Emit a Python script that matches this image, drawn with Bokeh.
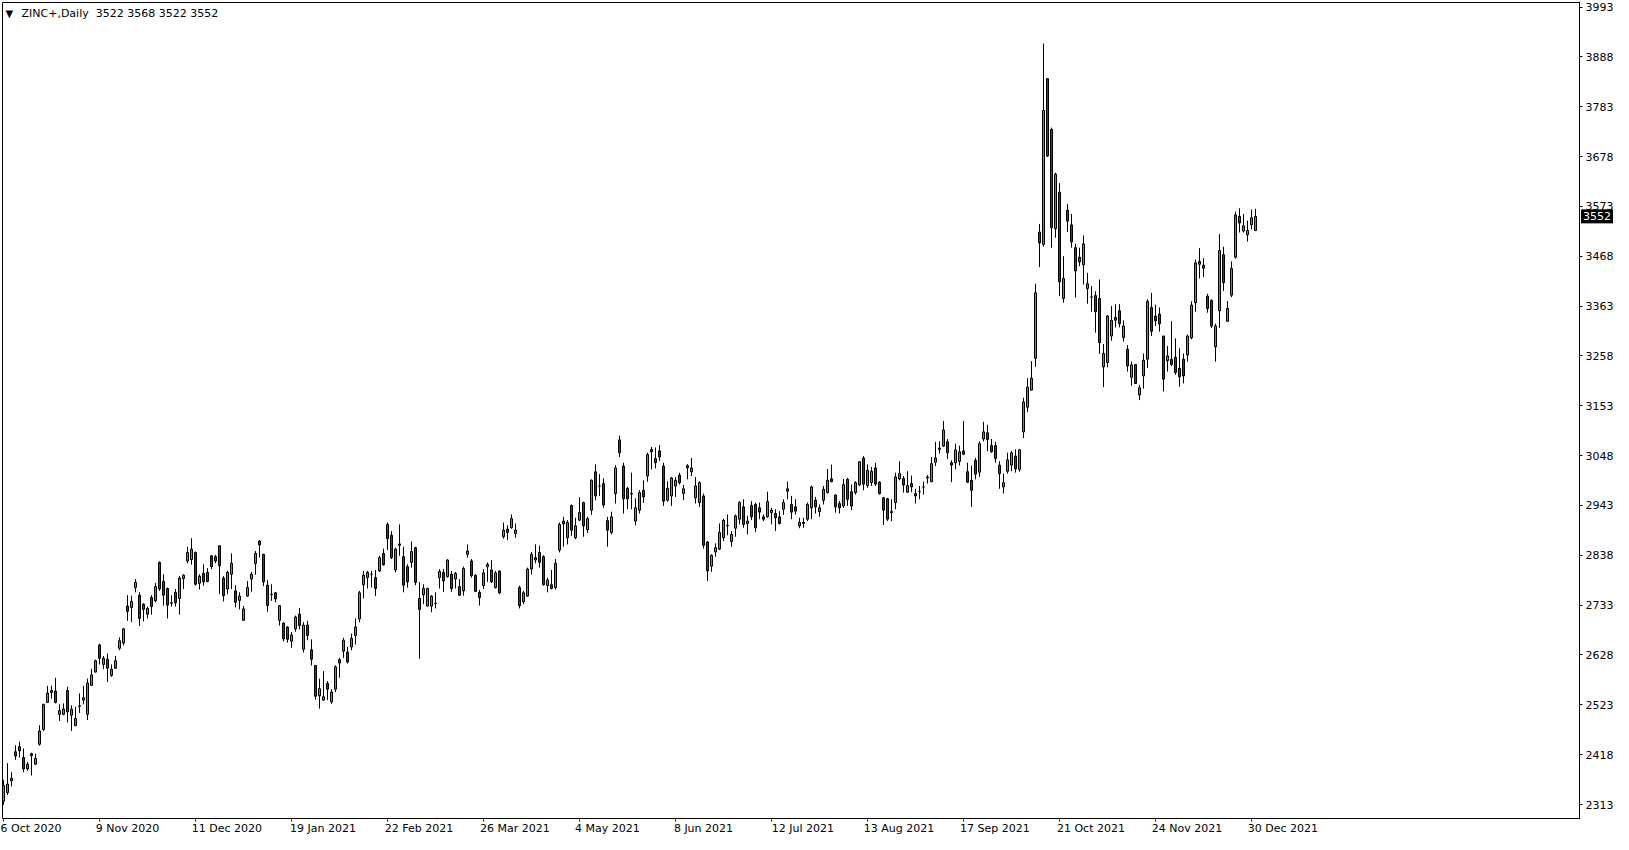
from bokeh.plotting import figure
from bokeh.models import ColumnDataSource, FixedTicker, Range1d, Label
from bokeh.core.properties import value
from bokeh.embed import file_html
from bokeh.resources import INLINE

# ---------------- data ----------------
symbol_text = "ZINC+,Daily"
ohlc_text = "3522 3568 3522 3552"

opens = [
    2320, 2338, 2363, 2424, 2435, 2412, 2388, 2420, 2398, 2440,
    2471, 2528, 2553, 2552, 2503, 2503, 2553, 2501, 2479, 2520,
    2533, 2503, 2564, 2592, 2649, 2608, 2619, 2585, 2600, 2642,
    2653, 2731, 2728, 2770, 2754, 2735, 2714, 2749, 2742, 2823,
    2783, 2768, 2738, 2760, 2747, 2789, 2826, 2829, 2844, 2779,
    2800, 2802, 2837, 2835, 2858, 2790, 2767, 2798, 2763, 2743,
    2701, 2752, 2788, 2821, 2868, 2840, 2775, 2756, 2759, 2701,
    2695, 2687, 2657, 2683, 2714, 2640, 2691, 2639, 2606, 2542,
    2533, 2568, 2529, 2556, 2618, 2636, 2634, 2645, 2669, 2704,
    2776, 2791, 2798, 2791, 2805, 2842, 2903, 2880, 2807, 2862,
    2835, 2814, 2823, 2854, 2747, 2755, 2731, 2731, 2737, 2791,
    2802, 2793, 2798, 2788, 2772, 2763, 2840, 2826, 2796, 2760,
    2774, 2814, 2807, 2770, 2805, 2877, 2893, 2896, 2884, 2770,
    2740, 2752, 2809, 2833, 2844, 2835, 2774, 2776, 2770, 2849,
    2910, 2875, 2943, 2875, 2912, 2949, 2892, 2933, 3014, 2984,
    2989, 2911, 2886, 2968, 3081, 3026, 2979, 2968, 2910, 2933,
    2975, 3005, 3061, 3042, 3058, 3026, 2954, 2963, 2984, 3007,
    2968, 3027, 3014, 2959, 2949, 2963, 2866, 2815, 2845, 2851,
    2875, 2901, 2867, 2895, 2914, 2940, 2905, 2943, 2945, 2938,
    2919, 2919, 2928, 2926, 2919, 2935, 2973, 2945, 2940, 2900,
    2905, 2914, 2938, 2954, 2930, 2954, 2970, 2999, 2965, 2947,
    2942, 2998, 2972, 2970, 2986, 3043, 2985, 2991, 3022, 2992,
    2959, 2957, 2930, 2949, 2999, 3000, 2971, 2989, 2968, 2972,
    2982, 3001, 2993, 3034, 3061, 3068, 3077, 3033, 3033, 3036,
    3058, 3014, 2996, 3038, 3013, 3083, 3096, 3069, 3069, 3028,
    2982, 3015, 3028, 3047, 3019, 3098, 3150, 3186, 3253, 3519,
    3493, 3842, 3735, 3526, 3603, 3379, 3565, 3534, 3486, 3466,
    3450, 3400, 3382, 3385, 3379, 3235, 3244, 3300, 3339, 3353,
    3297, 3272, 3213, 3240, 3176, 3216, 3251, 3360, 3342, 3346,
    3300, 3248, 3251, 3255, 3232, 3251, 3260, 3296, 3370, 3457,
    3449, 3384, 3375, 3277, 3353, 3471, 3331, 3386, 3466, 3552,
    3521, 3513, 3534, 3522,
]
highs = [
    2365, 2400, 2381, 2438, 2445, 2431, 2403, 2422, 2420, 2480,
    2525, 2563, 2563, 2580, 2524, 2526, 2561, 2522, 2519, 2547,
    2563, 2578, 2599, 2618, 2652, 2626, 2631, 2608, 2626, 2665,
    2685, 2754, 2753, 2788, 2760, 2737, 2730, 2754, 2780, 2825,
    2798, 2770, 2754, 2767, 2794, 2798, 2856, 2874, 2846, 2798,
    2819, 2811, 2838, 2839, 2859, 2794, 2805, 2842, 2775, 2760,
    2731, 2784, 2803, 2847, 2870, 2841, 2786, 2777, 2760, 2733,
    2697, 2689, 2676, 2711, 2727, 2697, 2700, 2661, 2606, 2578,
    2594, 2573, 2556, 2606, 2622, 2664, 2645, 2673, 2705, 2763,
    2805, 2805, 2805, 2807, 2837, 2852, 2907, 2889, 2854, 2903,
    2856, 2819, 2867, 2856, 2782, 2777, 2770, 2754, 2760, 2809,
    2809, 2830, 2805, 2803, 2788, 2814, 2861, 2830, 2798, 2765,
    2809, 2823, 2828, 2805, 2805, 2907, 2901, 2924, 2905, 2774,
    2763, 2812, 2845, 2861, 2858, 2838, 2791, 2807, 2830, 2907,
    2919, 2912, 2945, 2917, 2960, 2951, 2919, 2998, 3030, 3009,
    3000, 2919, 2930, 3028, 3090, 3033, 2982, 3012, 2958, 2975,
    2996, 3054, 3066, 3065, 3070, 3033, 2994, 3003, 3003, 3012,
    2986, 3030, 3043, 3003, 2994, 2968, 2868, 2840, 2863, 2905,
    2915, 2924, 2889, 2924, 2952, 2956, 2921, 2952, 2949, 2949,
    2924, 2972, 2938, 2935, 2931, 2956, 2993, 2963, 2956, 2917,
    2917, 2949, 2985, 2961, 2945, 2984, 3020, 3029, 2966, 2952,
    2999, 3001, 2987, 2994, 3036, 3047, 3029, 3024, 3033, 2994,
    2961, 2959, 2956, 3012, 3036, 3005, 3015, 3006, 2978, 2984,
    2993, 3007, 3045, 3077, 3078, 3121, 3083, 3038, 3073, 3069,
    3121, 3033, 3027, 3043, 3078, 3119, 3113, 3083, 3077, 3036,
    3010, 3054, 3058, 3061, 3062, 3170, 3211, 3247, 3410, 3536,
    3916, 3842, 3739, 3644, 3622, 3468, 3578, 3557, 3494, 3486,
    3512, 3433, 3405, 3394, 3419, 3283, 3344, 3363, 3367, 3367,
    3333, 3281, 3246, 3240, 3197, 3263, 3377, 3391, 3366, 3360,
    3300, 3279, 3331, 3295, 3274, 3263, 3303, 3373, 3461, 3485,
    3464, 3389, 3377, 3326, 3515, 3488, 3373, 3457, 3562, 3569,
    3557, 3543, 3566, 3568,
]
lows = [
    2312, 2333, 2351, 2407, 2412, 2381, 2384, 2374, 2396, 2437,
    2468, 2528, 2536, 2526, 2489, 2501, 2486, 2468, 2478, 2506,
    2524, 2491, 2563, 2591, 2608, 2598, 2571, 2582, 2599, 2638,
    2648, 2700, 2697, 2760, 2689, 2699, 2705, 2713, 2739, 2763,
    2732, 2705, 2730, 2730, 2713, 2767, 2821, 2818, 2774, 2766,
    2774, 2781, 2809, 2821, 2756, 2741, 2756, 2767, 2728, 2724,
    2700, 2751, 2761, 2797, 2833, 2773, 2719, 2742, 2739, 2690,
    2657, 2654, 2643, 2677, 2682, 2633, 2659, 2606, 2534, 2515,
    2532, 2533, 2525, 2550, 2580, 2622, 2610, 2638, 2650, 2697,
    2747, 2768, 2770, 2752, 2803, 2816, 2849, 2830, 2802, 2837,
    2760, 2770, 2812, 2775, 2620, 2735, 2730, 2718, 2726, 2768,
    2761, 2791, 2761, 2768, 2752, 2753, 2833, 2791, 2761, 2732,
    2767, 2782, 2780, 2768, 2756, 2873, 2870, 2894, 2875, 2726,
    2735, 2751, 2798, 2821, 2812, 2774, 2760, 2766, 2766, 2844,
    2856, 2861, 2879, 2872, 2910, 2877, 2885, 2923, 2954, 2963,
    2938, 2856, 2882, 2947, 3045, 2926, 2935, 2935, 2901, 2926,
    2948, 2993, 3019, 3021, 3037, 2942, 2951, 2942, 2961, 2987,
    2954, 2998, 3005, 2947, 2940, 2852, 2784, 2803, 2835, 2849,
    2868, 2880, 2856, 2877, 2903, 2896, 2882, 2912, 2887, 2914,
    2910, 2917, 2903, 2889, 2903, 2923, 2956, 2914, 2924, 2895,
    2896, 2910, 2914, 2926, 2919, 2945, 2968, 2992, 2928, 2926,
    2938, 2942, 2933, 2966, 2984, 2975, 2980, 2984, 2984, 2966,
    2902, 2910, 2910, 2935, 2996, 2970, 2970, 2971, 2947, 2956,
    2966, 2989, 2992, 3026, 3052, 3066, 3041, 2992, 3019, 3027,
    3049, 2991, 2940, 2998, 3003, 3078, 3057, 3054, 3033, 2978,
    2968, 3010, 3015, 3012, 3014, 3085, 3140, 3185, 3235, 3445,
    3488, 3677, 3486, 3507, 3384, 3370, 3519, 3486, 3381, 3447,
    3408, 3368, 3351, 3307, 3262, 3192, 3234, 3290, 3318, 3318,
    3288, 3225, 3195, 3199, 3165, 3189, 3233, 3300, 3321, 3309,
    3183, 3225, 3237, 3218, 3193, 3200, 3246, 3293, 3351, 3421,
    3424, 3349, 3317, 3246, 3317, 3395, 3330, 3382, 3463, 3518,
    3518, 3499, 3525, 3522,
]
closes = [
    2353, 2356, 2368, 2415, 2426, 2388, 2398, 2416, 2410, 2468,
    2524, 2548, 2549, 2528, 2511, 2514, 2508, 2514, 2494, 2521,
    2538, 2569, 2586, 2616, 2621, 2621, 2600, 2598, 2616, 2658,
    2683, 2720, 2741, 2781, 2705, 2724, 2726, 2730, 2772, 2767,
    2754, 2733, 2737, 2738, 2790, 2796, 2844, 2851, 2777, 2794,
    2782, 2783, 2814, 2826, 2816, 2753, 2802, 2821, 2739, 2752,
    2725, 2770, 2798, 2842, 2860, 2782, 2732, 2755, 2746, 2732,
    2662, 2661, 2670, 2708, 2690, 2691, 2669, 2619, 2541, 2557,
    2540, 2556, 2550, 2603, 2611, 2659, 2613, 2663, 2687, 2759,
    2796, 2802, 2798, 2768, 2833, 2818, 2873, 2833, 2851, 2859,
    2775, 2782, 2846, 2781, 2724, 2768, 2768, 2752, 2736, 2804,
    2784, 2828, 2768, 2800, 2754, 2810, 2847, 2795, 2762, 2749,
    2801, 2819, 2782, 2801, 2759, 2891, 2886, 2915, 2891, 2732,
    2759, 2809, 2840, 2828, 2823, 2776, 2786, 2768, 2821, 2903,
    2904, 2907, 2891, 2900, 2928, 2900, 2915, 2996, 2963, 2984,
    2944, 2891, 2919, 3022, 3054, 2957, 2957, 2967, 2938, 2970,
    2961, 3050, 3056, 3033, 3045, 2952, 2979, 3001, 2996, 2991,
    2978, 3022, 3022, 2984, 2991, 2859, 2805, 2838, 2854, 2886,
    2912, 2900, 2882, 2921, 2949, 2903, 2910, 2919, 2896, 2929,
    2914, 2951, 2933, 2917, 2905, 2949, 2978, 2929, 2931, 2907,
    2907, 2945, 2982, 2940, 2938, 2977, 2996, 2993, 2940, 2938,
    2987, 2956, 2942, 2991, 3035, 2988, 3017, 3015, 2988, 2968,
    2933, 2914, 2928, 3003, 3010, 2986, 2985, 2982, 2963, 2972,
    2982, 3003, 3031, 3043, 3064, 3102, 3054, 3028, 3060, 3056,
    3051, 2992, 2975, 3009, 3073, 3098, 3082, 3056, 3042, 3010,
    2991, 3039, 3054, 3020, 3060, 3161, 3192, 3211, 3391, 3496,
    3775, 3679, 3528, 3641, 3414, 3421, 3542, 3498, 3437, 3456,
    3494, 3410, 3382, 3351, 3286, 3263, 3342, 3333, 3333, 3326,
    3321, 3237, 3239, 3200, 3191, 3249, 3373, 3310, 3332, 3326,
    3209, 3258, 3240, 3223, 3214, 3216, 3300, 3365, 3454, 3451,
    3443, 3358, 3321, 3321, 3480, 3412, 3358, 3442, 3555, 3538,
    3532, 3522, 3549, 3552,
]
date_labels = [
    "6 Oct 2020", "9 Nov 2020", "11 Dec 2020", "19 Jan 2021", "22 Feb 2021",
    "26 Mar 2021", "4 May 2021", "8 Jun 2021", "12 Jul 2021", "13 Aug 2021",
    "17 Sep 2021", "21 Oct 2021", "24 Nov 2021", "30 Dec 2021",
]
bars_per_date_label = 24
price_ticks = [2313, 2418, 2523, 2628, 2733, 2838, 2943, 3048, 3153,
               3258, 3363, 3468, 3573, 3678, 3783, 3888, 3993]

# ---------------- styling / layout ----------------
BULL = "#00D800"
BEAR = "#D80000"
FONT = "DejaVu Sans"
FS = "11px"

# Bokeh draws with a half-pixel shift, so 1px lines sit on whole canvas coordinates.
FW, FH = 1612, 818          # frame (chart + price-scale strip) in px, frame starts at (1, 1)
BAR_PX = 4                  # px per bar
x_start = -0.5
x_end = x_start + FW / BAR_PX
x_border = x_start + 1578 / BAR_PX     # chart's right border line (price axis)
PX_PER_PRICE = 0.4747
y_end = 4004.6
y_start = y_end - FH / PX_PER_PRICE

n = len(closes)
xs = list(range(n))
colors = [BULL if c > o else (BEAR if c < o else "black") for o, c in zip(opens, closes)]
tops = [max(o, c) for o, c in zip(opens, closes)]
bottoms = [min(o, c) for o, c in zip(opens, closes)]

src = ColumnDataSource(dict(x=xs, h=highs, l=lows, top=tops, bottom=bottoms, color=colors))

p = figure(frame_width=FW, frame_height=FH,
           x_range=Range1d(x_start, x_end), y_range=Range1d(y_start, y_end),
           output_backend="svg", toolbar_location=None, y_axis_location="right",
           min_border_left=1, min_border_top=1, min_border_right=0, min_border_bottom=15,
           background_fill_color="white", border_fill_color="white",
           outline_line_color=None)
p.grid.visible = False

# chart border (left, top, bottom; the right side is the price axis line)
p.quad(left=[x_start + 1 / BAR_PX], right=[x_border],
       top=[y_end - 1 / PX_PER_PRICE], bottom=[y_start + 1 / PX_PER_PRICE],
       fill_color=None, line_color="black", line_width=1)

# candles
p.segment(x0="x", y0="l", x1="x", y1="h", source=src, line_color="black", line_width=1)
p.vbar(x="x", width=0.5, top="top", bottom="bottom", source=src,
       fill_color="color", line_color="black", line_width=1)

# x axis (dates) - labels start at their bar (leading no-break spaces offset the centring)
xa = p.xaxis[0]
date_ticks = [i * bars_per_date_label for i in range(len(date_labels))]
xa.ticker = FixedTicker(ticks=date_ticks)
xa.major_label_overrides = {
    t: (lab if i == 0 else "\u00a0" * round((len(lab) * 6.1 - 4) / 3.5) + lab)
    for i, (t, lab) in enumerate(zip(date_ticks, date_labels))
}
xa.major_label_text_font = FONT
xa.major_label_text_font_size = FS
xa.major_label_text_color = "black"
xa.major_label_standoff = 0
xa.major_tick_in = 0
xa.major_tick_out = 2
xa.minor_tick_line_color = None
xa.axis_line_color = None
xa.major_tick_line_color = "black"

# y axis (prices) placed on the chart's right border
ya = p.yaxis[0]
ya.fixed_location = x_border
ya.ticker = FixedTicker(ticks=price_ticks)
ya.major_label_overrides = {t: str(t) for t in price_ticks}
ya.major_label_text_font = FONT
ya.major_label_text_font_size = FS
ya.major_label_text_color = "black"
ya.major_label_standoff = 3
ya.major_tick_in = 0
ya.major_tick_out = 3
ya.minor_tick_line_color = None
ya.axis_line_color = "black"
ya.major_tick_line_color = "black"

# last price tag on the price scale
tag = ColumnDataSource(dict(x=[x_border + 17.5 / BAR_PX], y=[closes[-1]], t=[str(closes[-1])]))
p.rect(x="x", y="y", width=32, height=14, width_units="screen", height_units="screen",
       source=tag, fill_color="black", line_color=None, level="overlay")
p.text(x="x", y="y", text="t", source=tag, text_color="white", text_font=value(FONT),
       text_font_size=value(FS), text_align="center", text_baseline="middle", level="overlay")

# header text in the top-left corner of the chart
title_y = y_end - 11.5 / PX_PER_PRICE
p.add_layout(Label(x=x_start + 4 / BAR_PX, y=title_y, text="\u25bc", text_font=FONT,
                   text_font_size="10px", text_color="black", text_baseline="middle",
                   text_align="left"))
p.add_layout(Label(x=x_start + 20 / BAR_PX, y=title_y,
                   text=symbol_text + "\u00a0\u00a0" + ohlc_text, text_font=FONT,
                   text_font_size=FS, text_color="black", text_baseline="middle",
                   text_align="left"))

open("out.html", "w").write(file_html(p, INLINE))
